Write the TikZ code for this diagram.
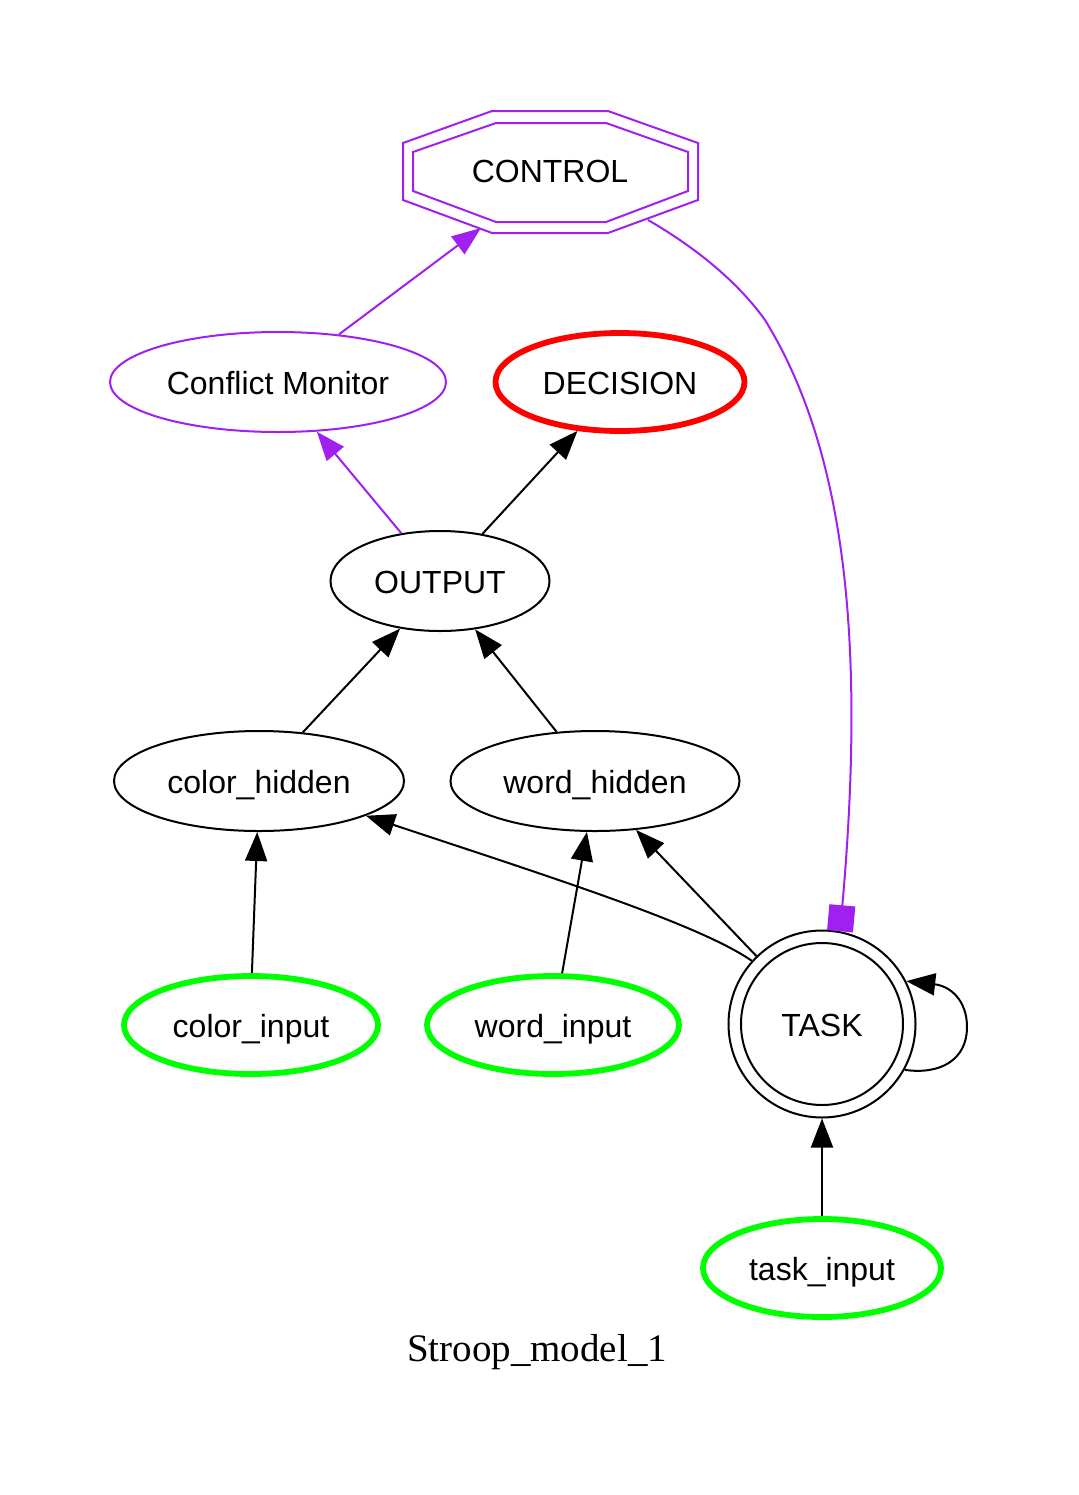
\documentclass[tikz,border=0pt]{standalone}
\usepackage{fontspec}
\setmainfont{Liberation Sans}
\newfontfamily\capfont{Liberation Serif}
\usetikzlibrary{shapes.geometric,arrows.meta}
\definecolor{gvpurple}{HTML}{A020F0}
\definecolor{gvgreen}{HTML}{00FF00}
\definecolor{gvred}{HTML}{FF0000}
\begin{document}
\begin{tikzpicture}[x=0.5pt,y=-0.5pt,
  lbl/.style={font=\fontsize{16}{19}\selectfont, text=black, text height=14.5pt, text depth=2.5pt},
  oval/.style={lbl, ellipse, draw, line width=1pt, inner sep=0pt, minimum height=50pt},
  thickoval/.style={oval, line width=2.9pt, minimum height=49pt},
  edge/.style={draw, line width=1pt, -{Triangle[length=14.5pt,width=11pt]}},
  pedge/.style={edge, draw=gvpurple, fill=gvpurple},
]
\path[use as bounding box, fill=white] (0,0) rectangle (1078,1495);

% CONTROL double octagon
\draw[gvpurple, line width=1pt] (492,111) -- (608,111) -- (698,143) -- (698,200) -- (608,233) -- (492,233) -- (403,200) -- (403,143) -- cycle;
\draw[gvpurple, line width=1pt] (496,123) -- (606,123) -- (688,152) -- (688,191) -- (606,222) -- (496,222) -- (413,191) -- (413,152) -- cycle;
\node[lbl] (control) at (550,170) {CONTROL};
\coordinate (controlin) at (481,228);
\coordinate (controlout) at (648,220);

% nodes
\node[oval, draw=gvpurple, minimum width=168pt] (cm) at (278,382) {Conflict Monitor};
\node[thickoval, draw=gvred, minimum width=124.5pt] (dec) at (620,382) {DECISION};
\node[oval, minimum width=109.5pt] (out) at (440,581) {OUTPUT};
\node[oval, minimum width=145pt] (ch) at (259,781) {color\_hidden};
\node[oval, minimum width=144.5pt] (wh) at (595,781) {word\_hidden};
\node[thickoval, draw=gvgreen, minimum width=127pt] (ci) at (251,1025) {color\_input};
\node[thickoval, draw=gvgreen, minimum width=126pt] (wi) at (553,1025) {word\_input};
\node[lbl, circle, draw, line width=1pt, inner sep=0pt, minimum size=93.5pt] (task) at (822,1024) {TASK};
\draw[line width=1pt] (task.center) circle[radius=40.5pt];
\node[thickoval, draw=gvgreen, minimum width=119pt] (ti) at (822,1268) {task\_input};

\node[font=\capfont\fontsize{19.5}{23}\selectfont] (caption) at (537,1352) {Stroop\_model\_1};

% edges
\draw[pedge] (cm.38) -- (controlin);
\draw[pedge] (out.129) -- (cm.308);
\draw[edge] (out.48) -- (dec.229);
\draw[edge] (ch.48) -- (out.230);
\draw[edge] (wh.128) -- (out.306);
\draw[edge] (ci.89) -- (ch.268);
\draw[edge] (wi.80) -- (wh.261);
\draw[edge] (task.134) -- (wh.310);
\draw[edge] (task.138.5) .. controls (700,925) and (560,880) .. (ch.342);
\draw[edge] (ti.90) -- (task.270);
\draw[edge] (task.-29.5) .. controls (940,1075) and (967,1060) .. (967,1027)
  .. controls (967,1000) and (950,986) .. (task.27);
\draw[draw=gvpurple, line width=1pt, -{Square[length=13pt,width=13pt,fill=gvpurple]}]
  (controlout) .. controls (700,250) and (740,285) .. (765,320)
  .. controls (845,450) and (866,640) .. (task.79);
\end{tikzpicture}
\end{document}
